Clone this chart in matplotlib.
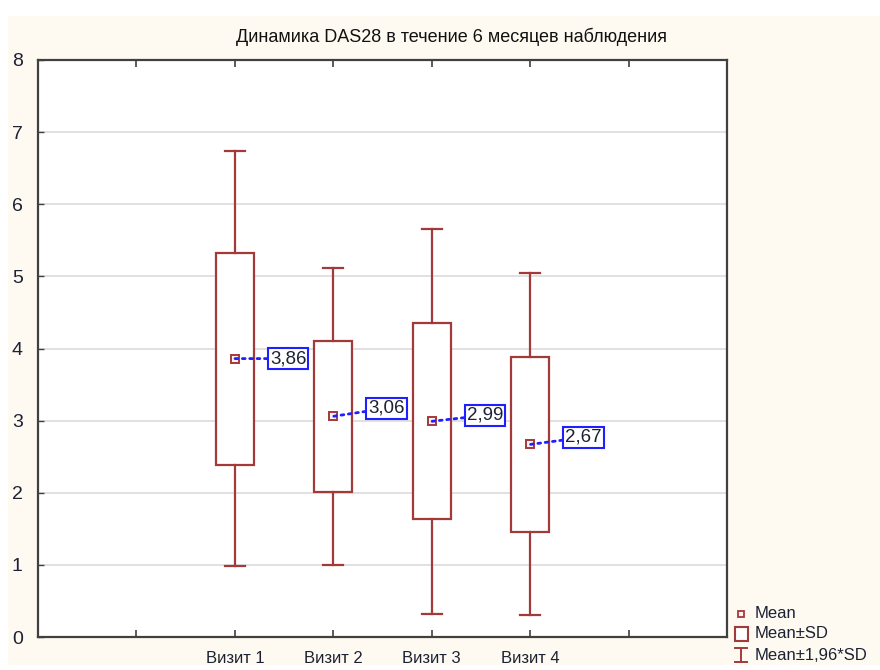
import matplotlib.pyplot as plt
from matplotlib.patches import Rectangle
from matplotlib.lines import Line2D

# данные: средние и SD по визитам
visits = ['Визит 1', 'Визит 2', 'Визит 3', 'Визит 4']
mean = [3.86, 3.06, 2.99, 2.67]
sd = [1.47, 1.05, 1.36, 1.21]
positions = [2, 3, 4, 5]
x_ticks = [1, 2, 3, 4, 5, 6]
x_ticklabels = [''] + visits + ['']
y_ticks = [0, 1, 2, 3, 4, 5, 6, 7, 8]

red = '#a33a3a'
blue = '#1f1fff'
txt = '#1c2233'

plt.rcParams['font.family'] = ['Liberation Sans', 'DejaVu Sans']

fig = plt.figure(figsize=(8.8, 6.7), dpi=100)
fig.patch.set_facecolor('white')
# кремовый фон как в STATISTICA
fig.patches.append(Rectangle((8 / 880, 5 / 670), 872 / 880, 649 / 670,
                             transform=fig.transFigure, facecolor='#fefaf1',
                             edgecolor='none', zorder=-10))

ax = fig.add_axes([38 / 880, 1 - 637 / 670, 689 / 880, 577 / 670])
ax.set_facecolor('white')

box_w = 0.39
cap_w = 0.2
for x, m, s in zip(positions, mean, sd):
    lo, hi = m - s, m + s
    wlo, whi = m - 1.96 * s, m + 1.96 * s
    ax.add_patch(Rectangle((x - box_w / 2, lo), box_w, hi - lo, facecolor='white',
                           edgecolor=red, lw=1.6, zorder=3))
    ax.plot([x, x], [hi, whi], color=red, lw=1.6, zorder=3)
    ax.plot([x, x], [wlo, lo], color=red, lw=1.6, zorder=3)
    ax.plot([x - cap_w / 2, x + cap_w / 2], [whi, whi], color=red, lw=1.6, zorder=3)
    ax.plot([x - cap_w / 2, x + cap_w / 2], [wlo, wlo], color=red, lw=1.6, zorder=3)

ax.plot(positions, mean, 's', ms=5.5, mfc='#fff0f0', mec=red, mew=1.4,
        ls='none', zorder=5)

# подписи средних
label_dy = [0, 8, 6, 7]
for x, m, dy in zip(positions, mean, label_dy):
    ax.annotate(f'{m:.2f}'.replace('.', ','), xy=(x, m), xytext=(35, dy),
                textcoords='offset pixels', ha='left', va='center',
                fontsize=13.5, color=txt, zorder=6,
                bbox=dict(boxstyle='square,pad=0.1', fc='white', ec=blue, lw=1.5),
                arrowprops=dict(arrowstyle='-', color=blue, lw=2, ls=':',
                                shrinkA=0, shrinkB=0))

ax.set_xlim(0, 7)
ax.set_ylim(0, 8)
ax.set_xticks(x_ticks)
ax.set_xticklabels(x_ticklabels)
ax.set_yticks(y_ticks)
ax.yaxis.grid(True, color='#dcdcdc', lw=1.2)
ax.set_axisbelow(True)
ax.tick_params(axis='x', direction='in', length=5, top=True, width=1.2,
               color='#404040', labelsize=12, labelcolor=txt, pad=10)
ax.tick_params(axis='y', direction='in', length=4, width=1, color='#404040',
               labelsize=14, labelcolor=txt, pad=11)
for sp in ax.spines.values():
    sp.set_color('#404040')
    sp.set_linewidth(1.6)

fig.text(451 / 880, 1 - 37 / 670, 'Динамика DAS28 в течение 6 месяцев наблюдения',
         ha='center', va='center', fontsize=13, color='#111111')

# легенда справа снизу
lax = fig.add_axes([0, 0, 1, 1], facecolor='none')
lax.set_xlim(0, 880)
lax.set_ylim(670, 0)
lax.axis('off')
lax.plot([741], [614], 's', ms=5, mfc='#fff0f0', mec=red, mew=1.3)
lax.add_patch(Rectangle((735, 627), 13, 14, facecolor='white', edgecolor=red, lw=1.5))
lax.add_line(Line2D([741, 741], [648, 662], color=red, lw=1.4))
lax.add_line(Line2D([735, 747], [648, 648], color=red, lw=1.4))
lax.add_line(Line2D([735, 747], [662, 662], color=red, lw=1.4))
for yy, s in zip([614, 634, 655], ['Mean', 'Mean±SD', 'Mean±1,96*SD']):
    lax.text(755, yy, s, ha='left', va='center', fontsize=12, color=txt)

fig.savefig('out.png', dpi=100)
